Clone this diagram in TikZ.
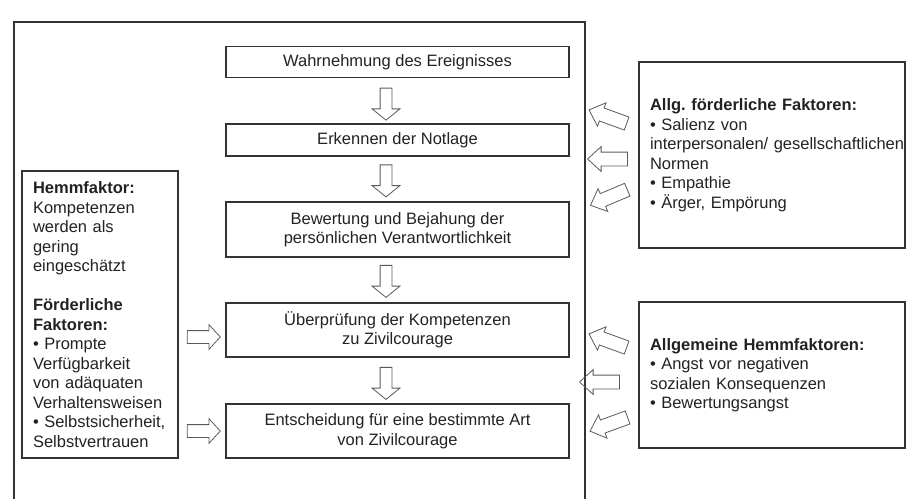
\documentclass[tikz,border=0pt]{standalone}
\usepackage{fontspec}
\setmainfont{Liberation Sans}
\usetikzlibrary{shapes.arrows,calc}
\definecolor{ink}{HTML}{222222}
\definecolor{edge}{HTML}{333333}
\definecolor{arr}{HTML}{5A5A5A}
\frenchspacing
\begin{document}
\frenchspacing
\begin{tikzpicture}[x=1pt,y=-1pt,
  every node/.style={font=\fontsize{16.5}{19.5}\selectfont\frenchspacing, text=ink},
  stage/.style={draw=edge, line width=1.3pt, minimum width=343pt, align=center, inner sep=0pt},
  side/.style={draw=edge, line width=1.3pt, inner sep=0pt, align=left},
  varrow/.style={single arrow, draw=arr, line width=0.8pt, rotate=-90, minimum height=32pt,
    inner sep=5.5pt, single arrow head extend=8pt, single arrow tip angle=102},
  larrow/.style={single arrow, draw=arr, line width=0.8pt, minimum height=33pt,
    inner sep=6pt, single arrow head extend=6pt, single arrow tip angle=95},
  rarrow/.style={single arrow, draw=arr, line width=0.8pt, minimum height=40pt,
    inner sep=6.5pt, single arrow head extend=5.5pt, single arrow tip angle=85},
]
\useasboundingbox (0,0) rectangle (912,499);
% outer frame (open at the bottom)
\draw[draw=edge, line width=1.1pt] (14,499) -- (14,22) -- (585,22) -- (585,499);

% central stages
\node[stage, minimum height=31pt] (b1) at (397.5,62) {Wahrnehmung des Ereignisses};
\node[stage, minimum height=32pt] (b2) at (397.5,140) {Erkennen der Notlage};
\node[stage, minimum height=55pt] (b3) at (397.5,229.5) {Bewertung und Bejahung der\\persönlichen Verantwortlichkeit};
\node[stage, minimum height=54pt] (b4) at (397.5,330) {Überprüfung der Kompetenzen\\zu Zivilcourage};
\node[stage, minimum height=54pt] (b5) at (397.5,431) {Entscheidung für eine bestimmte Art\\von Zivilcourage};

% arrows between stages
\node[varrow] (a1) at ($(b1.south)!0.5!(b2.north)+(-11.5,1)$) {};
\node[varrow] (a2) at ($(b2.south)!0.5!(b3.north)+(-11.5,-0.5)$) {};
\node[varrow] (a3) at ($(b3.south)!0.5!(b4.north)+(-11.5,-1)$) {};
\node[varrow] (a4) at ($(b4.south)!0.5!(b5.north)+(-11.5,0.5)$) {};

% left box
\node[side, text width=156pt, minimum height=287pt] (lb) at (100,314.5)
  {\leftskip=11pt \textbf{Hemmfaktor:}\\
   Kompetenzen\\
   werden als\\
   gering\\
   eingeschätzt\\[19.5pt]
   \textbf{Förderliche}\\
   \textbf{Faktoren:}\\
   • Prompte\\
   Verfügbarkeit\\
   von adäquaten\\
   Verhaltensweisen\\
   • Selbstsicherheit,\\
   Selbstvertrauen\par};

\node[larrow] (l1) at ([shift={(-24.5,7)}]b4.west) {};
\node[larrow] (l2) at ([shift={(-24.5,0)}]b5.west) {};

% right boxes
\node[side, text width=266pt, minimum height=186pt] (rt) at (772,155)
  {\leftskip=11pt \textbf{Allg. förderliche Faktoren:}\\
   • Salienz von\\
   interpersonalen/ gesellschaftlichen\\
   Normen\\
   • Empathie\\
   • Ärger, Empörung\par};
\node[side, text width=266pt, minimum height=146pt] (rb) at (772,375)
  {\leftskip=11pt \textbf{Allgemeine Hemmfaktoren:}\\
   • Angst vor negativen\\
   sozialen Konsequenzen\\
   • Bewertungsangst\par};

\node[rarrow, rotate=160] (r1) at ([shift={(-27,-37)}]rt.west) {};
\node[rarrow, rotate=180] (r2) at ([shift={(-27,4)}]rt.west) {};
\node[rarrow, rotate=203] (r3) at ([shift={(-26,41)}]rt.west) {};

\node[rarrow, rotate=160] (r4) at ([shift={(-27,-33)}]rb.west) {};
\node[rarrow, rotate=180] (r5) at ([shift={(-35,7)}]rb.west) {};
\node[rarrow, rotate=200] (r6) at ([shift={(-26,48)}]rb.west) {};
\end{tikzpicture}
\end{document}
